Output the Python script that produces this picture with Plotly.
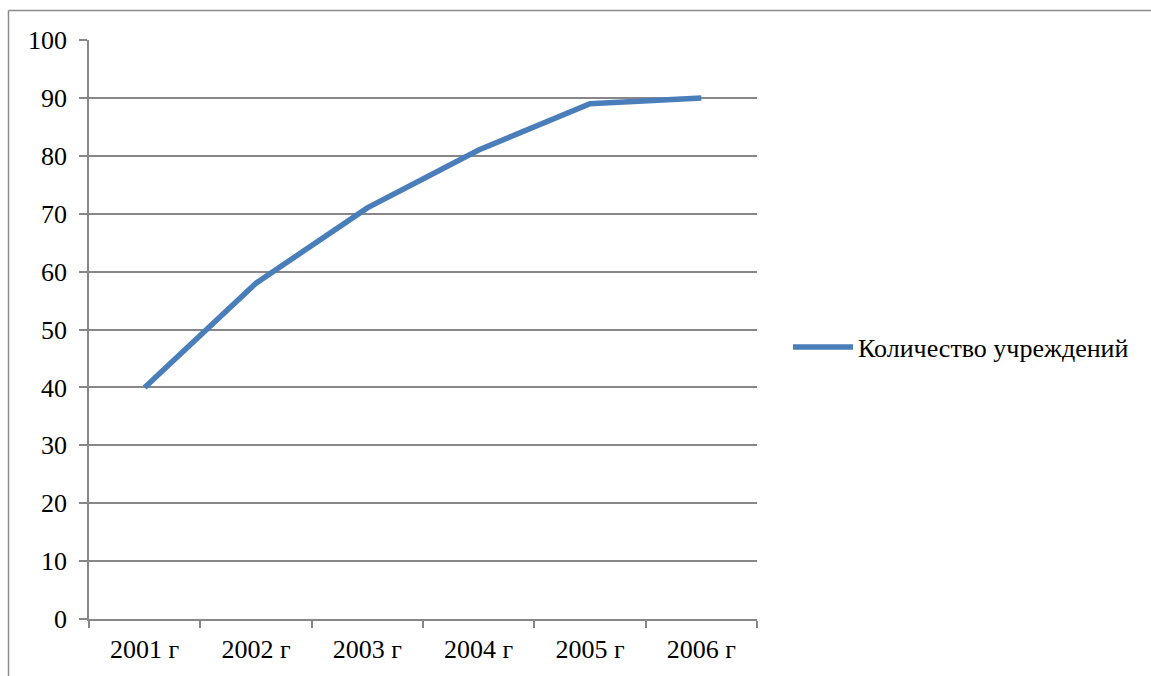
import plotly.graph_objects as go

years = ["2001 г", "2002 г", "2003 г", "2004 г", "2005 г", "2006 г"]
counts = [40, 58, 71, 81, 89, 90]
series_name = "Количество учреждений"

W, H = 1151, 676
L, R, T, B = 89, 1151 - 757, 40, 676 - 619
pw, ph = W - L - R, H - T - B

def px_x(x):
    return (x - L) / pw

def px_y(y):
    return (H - B - y) / ph

grid = "#878787"
font = dict(family="Liberation Serif", size=26, color="#000000")

fig = go.Figure()
fig.add_trace(go.Scatter(
    x=years, y=counts, mode="lines", name=series_name,
    line=dict(color="#4a7ebb", width=5.5),
))

fig.update_layout(
    width=W, height=H,
    margin=dict(l=L, r=R, t=T, b=B),
    paper_bgcolor="white", plot_bgcolor="white",
    font=font,
    showlegend=True,
    legend=dict(x=px_x(788), y=px_y(347), xanchor="left", yanchor="middle",
                font=font, bgcolor="rgba(0,0,0,0)", itemwidth=60),
    xaxis=dict(type="category", range=[-0.5, 5.5], tickson="boundaries",
               ticks="outside", ticklen=7, tickcolor=grid, tickwidth=1.5,
               showline=True, linecolor=grid, linewidth=1.5,
               showgrid=False, fixedrange=True, tickfont=font,
               ticklabelstandoff=6),
    yaxis=dict(range=[0, 100], dtick=10, tick0=0, ticks="outside", ticklen=8,
               tickcolor=grid, tickwidth=1.5, showline=True, linecolor=grid,
               linewidth=1.5, showgrid=True, gridcolor=grid, gridwidth=1.5,
               zeroline=False, tickfont=font, ticklabelstandoff=7,
               fixedrange=True),
    shapes=[
        dict(type="line", xref="paper", yref="paper",
             x0=px_x(8.5), x1=px_x(1160), y0=px_y(10.5), y1=px_y(10.5),
             line=dict(color="#8c8c8c", width=1.5)),
        dict(type="line", xref="paper", yref="paper",
             x0=px_x(8.5), x1=px_x(8.5), y0=px_y(10.5), y1=px_y(690),
             line=dict(color="#8c8c8c", width=1.5)),
    ],
)

fig.write_html("out.html", config={"displayModeBar": False},
               post_script="document.body.style.margin='0';document.body.style.padding='0';")
